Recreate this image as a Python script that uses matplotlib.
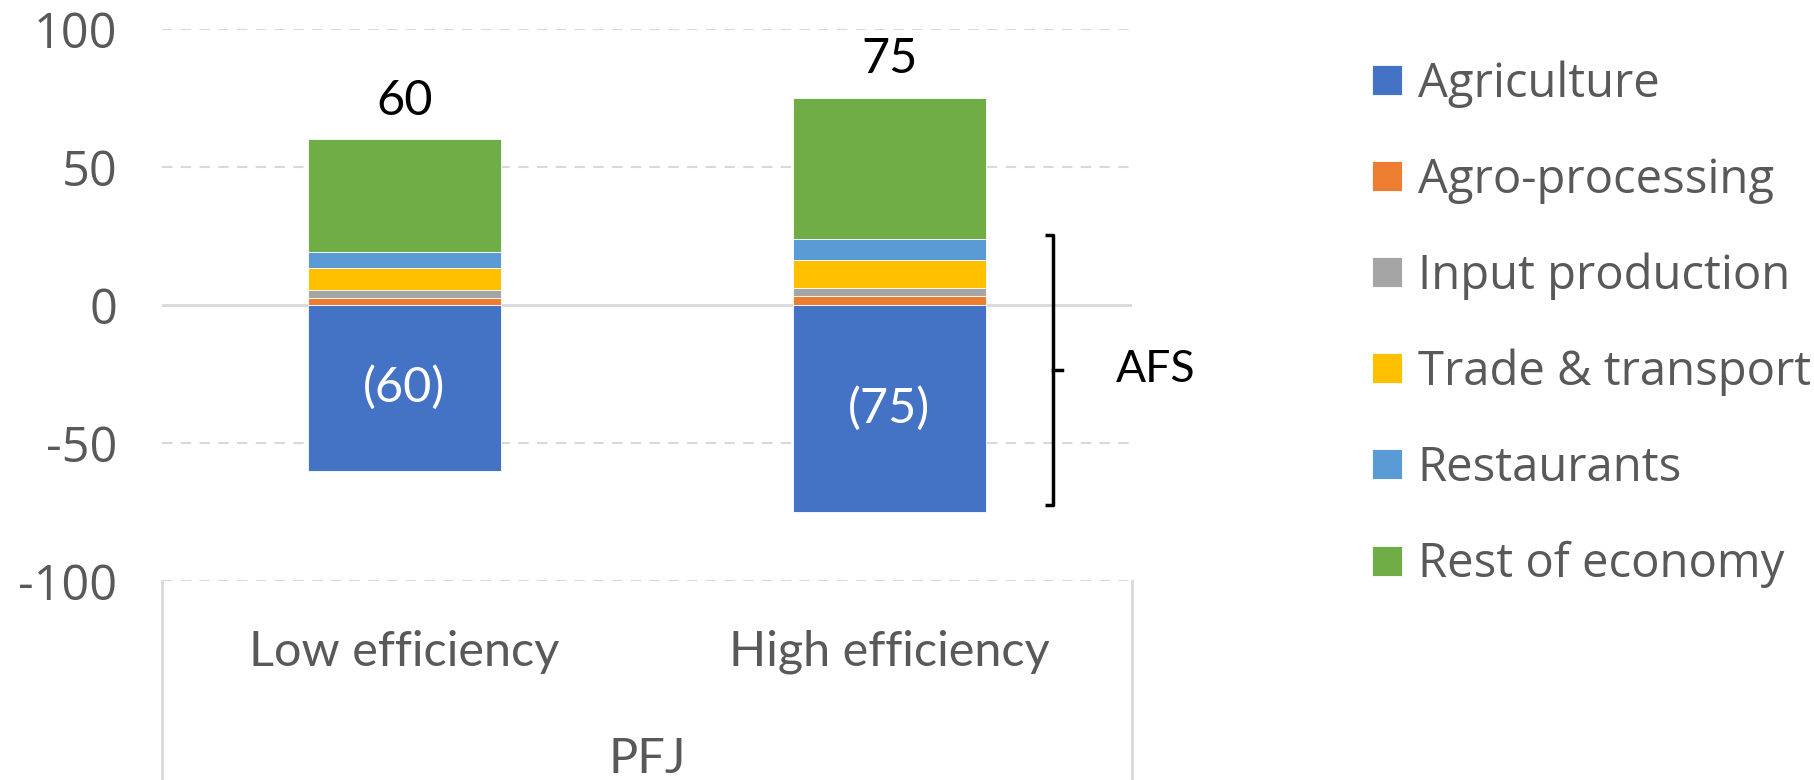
import numpy as np
import matplotlib
matplotlib.use('Agg')
import matplotlib.pyplot as plt

# Job changes by sector under the two PFJ scenarios
categories = ['Low efficiency', 'High efficiency']
group_label = 'PFJ'
sectors = ['Agriculture', 'Agro-processing', 'Input production',
           'Trade & transport', 'Restaurants', 'Rest of economy']
agriculture = [-60, -75]
agro_processing = [2.5, 3.2]
input_production = [2.8, 2.8]
trade_transport = [8.0, 10.3]
restaurants = [6.0, 7.7]
rest_of_economy = [40.7, 51.0]
yticks = [-100, -50, 0, 50, 100]

colors = ['#4472C4', '#ED7D31', '#A5A5A5', '#FFC000', '#5B9BD5', '#70AD47']
grey = '#595959'
tick_font = 'Open Sans'
label_font = 'Lato'

fig = plt.figure(figsize=(18.14, 7.8), dpi=100)
W, H = 1814, 780
ax = fig.add_axes([162 / W, 1 - 581 / H, (1132 - 162) / W, (581 - 29) / H])

x = np.arange(len(categories))
width = 0.396
series = [agriculture, agro_processing, input_production,
          trade_transport, restaurants, rest_of_economy]

handles = []
pos_bottom = np.zeros(len(categories))
for vals, col, name in zip(series, colors, sectors):
    vals = np.array(vals, dtype=float)
    if vals[0] < 0:
        b = ax.bar(x, vals, width, color=col, edgecolor='white', linewidth=0.6, label=name, zorder=3)
    else:
        b = ax.bar(x, vals, width, bottom=pos_bottom, color=col, edgecolor='white',
                   linewidth=0.6, label=name, zorder=3)
        pos_bottom += vals
    handles.append(b)

# totals above the bars and agriculture losses inside
for i in range(len(categories)):
    ax.annotate(f'{pos_bottom[i]:.0f}', (x[i], pos_bottom[i]), xytext=(0, 12),
                textcoords='offset points', ha='center', va='bottom',
                fontsize=35, family=label_font, color='black')
    ax.text(x[i], agriculture[i] / 2, f'({-agriculture[i]:.0f})', ha='center', va='center',
            fontsize=35, family=label_font, color='white', zorder=4)

ax.set_xlim(-0.5, 1.5)
ax.set_ylim(-100, 100)
ax.set_yticks(yticks)
ax.set_yticklabels([str(v) for v in yticks], family=tick_font, fontsize=35, color=grey)
ax.tick_params(axis='y', length=0, pad=32)
ax.set_xticks([])
for s in ax.spines.values():
    s.set_visible(False)
for v in yticks:
    if v == 0:
        ax.axhline(v, color='#d9d9d9', lw=2, zorder=1)
    else:
        ax.axhline(v, color='#d9d9d9', lw=1.5, ls=(0, (5, 4)), zorder=1)

# multi-level category axis below the plot
for xl in [162, 1132]:
    fig.add_artist(plt.Line2D([xl / W, xl / W], [1 - 581 / H, 0], color='#d9d9d9', lw=2))
for xi, cat in zip(x, categories):
    ax.text(xi, -125.6, cat, ha='center', va='center', fontsize=35, family=label_font,
            color=grey, clip_on=False)
ax.text(0.5, -164.5, group_label, ha='center', va='center', fontsize=35, family=label_font,
        color=grey, clip_on=False)

# AFS bracket
bx, top, bot = 1.337, 25.2, -72.3
mid = (top + bot) / 2
ax.plot([bx - 0.017, bx, bx, bx - 0.017], [top, top, bot, bot], color='black', lw=2.5,
        clip_on=False, zorder=5, solid_capstyle='butt')
ax.plot([bx, bx + 0.019], [mid, mid], color='black', lw=2.5, clip_on=False, zorder=5)
ax.text(bx + 0.13, mid, 'AFS', ha='left', va='center', fontsize=32, family=label_font,
        color='black', clip_on=False)

leg = fig.legend(handles=handles, labels=sectors, loc='upper left',
                 bbox_to_anchor=(1372 / W, 1 - 60 / H), frameon=False,
                 prop={'family': tick_font, 'size': 34},
                 handlelength=0.64, handleheight=0.6, handletextpad=0.33,
                 labelspacing=1.03, borderaxespad=0, borderpad=0)
for t in leg.get_texts():
    t.set_color(grey)

fig.savefig('out.png', dpi=100)
